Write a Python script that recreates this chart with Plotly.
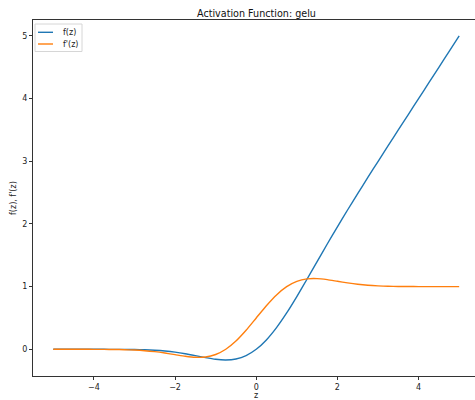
import plotly.graph_objects as go

# ---- data ----
z = [-5.0, -4.75, -4.5, -4.25, -4.0, -3.75, -3.5, -3.25, -3.0, -2.75, -2.5, -2.25,
     -2.0, -1.75, -1.5, -1.25, -1.0, -0.75, -0.5, -0.25, 0.0, 0.25, 0.5, 0.75,
     1.0, 1.25, 1.5, 1.75, 2.0, 2.25, 2.5, 2.75, 3.0, 3.25, 3.5, 3.75, 4.0,
     4.25, 4.5, 4.75, 5.0]
f_vals = [0.0, 0.0, 0.0, -0.0000, -0.0001, -0.0003, -0.0008, -0.0019, -0.0040, -0.0082,
          -0.0155, -0.0275, -0.0455, -0.0701, -0.1002, -0.1321, -0.1587, -0.1700,
          -0.1543, -0.1003, 0.0, 0.1497, 0.3457, 0.5800, 0.8413, 1.1179, 1.3998,
          1.6799, 1.9545, 2.2225, 2.4845, 2.7418, 2.9960, 3.2481, 3.4992, 3.7497,
          3.9999, 4.25, 4.5, 4.75, 5.0]
df_vals = [0.0, 0.0, -0.0001, -0.0002, -0.0005, -0.0012, -0.0028, -0.0060, -0.0120,
           -0.0220, -0.0376, -0.0592, -0.0852, -0.1109, -0.1275, -0.1227, -0.0833,
           0.0008, 0.1325, 0.3046, 0.5, 0.6954, 0.8675, 0.9992, 1.0833, 1.1227,
           1.1275, 1.1109, 1.0852, 1.0592, 1.0376, 1.0220, 1.0120, 1.0060, 1.0028,
           1.0012, 1.0005, 1.0002, 1.0001, 1.0, 1.0]
series_names = ["f(z)", "f'(z)"]
x_ticks = [-4, -2, 0, 2, 4]
x_tick_text = ["\u22124", "\u22122", "0", "2", "4"]
y_ticks = [0, 1, 2, 3, 4, 5]
y_tick_text = ["0", "1", "2", "3", "4", "5"]
title_text = "Activation Function: gelu"
x_label = "z"
y_label = "f(z), f'(z)"

# ---- layout geometry ----
W, H = 475, 400
L, R, T, B = 33, 0, 20, 24
PW, PH = W - L - R, H - T - B
FONT = "DejaVu Sans"
C1, C2 = "#1f77b4", "#ff7f0e"


def px(xp):
    return (xp - L) / PW


def py(yp):
    return (H - B - yp) / PH


fig = go.Figure()
fig.add_trace(go.Scatter(x=z, y=f_vals, mode="lines", name=series_names[0],
                         line=dict(color=C1, width=1.4, shape="spline", smoothing=0.6)))
fig.add_trace(go.Scatter(x=z, y=df_vals, mode="lines", name=series_names[1],
                         line=dict(color=C2, width=1.4, shape="spline", smoothing=0.6)))

axis_common = dict(showgrid=False, zeroline=False, ticks="outside", ticklen=3,
                   tickwidth=1, tickcolor="#333", linecolor="#333", linewidth=1,
                   showline=True, tickfont=dict(family=FONT, size=8, color="#222"))

fig.update_xaxes(range=[-5.5, 5.39], tickvals=x_ticks, ticktext=x_tick_text,
                 mirror=True, **axis_common)
fig.update_yaxes(range=[-0.426, 5.254], tickvals=y_ticks, ticktext=y_tick_text,
                 **axis_common)

annotations = [
    dict(text=title_text, xref="x", yref="paper", x=0, y=py(13), xanchor="center",
         yanchor="middle", showarrow=False, font=dict(family=FONT, size=9.6, color="#111")),
    dict(text=x_label, xref="x", yref="paper", x=0, y=py(395), xanchor="center",
         yanchor="middle", showarrow=False, font=dict(family=FONT, size=8, color="#222")),
    dict(text=y_label, xref="paper", yref="paper", x=px(13), y=0.5, xanchor="center",
         yanchor="middle", textangle=-90, showarrow=False,
         font=dict(family=FONT, size=8, color="#222")),
]

# manual legend (matplotlib style)
shapes = [
    dict(type="rect", xref="paper", yref="paper", x0=px(35), x1=px(82), y0=py(51.5),
         y1=py(24), line=dict(color="#d6d6d6", width=1), fillcolor="rgba(255,255,255,0.8)",
         layer="above"),
]
for i, (name, col, yy) in enumerate(zip(series_names, [C1, C2], [32.3, 44])):
    shapes.append(dict(type="line", xref="paper", yref="paper", x0=px(38), x1=px(53),
                       y0=py(yy), y1=py(yy), line=dict(color=col, width=1.4), layer="above"))
    annotations.append(dict(text=name, xref="paper", yref="paper", x=px(61), y=py(yy),
                            xanchor="left", yanchor="middle", showarrow=False,
                            font=dict(family=FONT, size=8, color="#222")))

fig.update_layout(width=W, height=H, margin=dict(l=L, r=R, t=T, b=B),
                  paper_bgcolor="white", plot_bgcolor="white", showlegend=False,
                  annotations=annotations, shapes=shapes)

fig.write_html("out.html")
